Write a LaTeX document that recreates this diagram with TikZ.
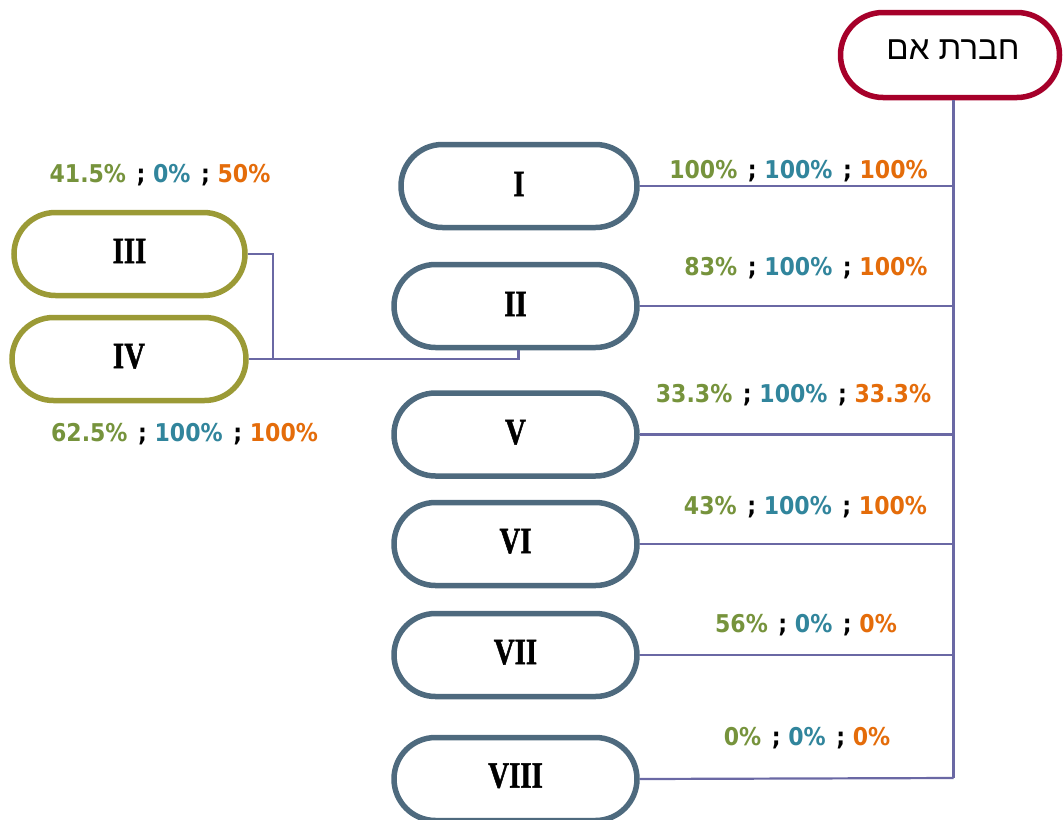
\documentclass[tikz,border=0pt]{standalone}
\usepackage{fontspec}
\usetikzlibrary{shapes.misc}
\setmainfont{Liberation Serif}
\newfontfamily\hebfont[Script=Hebrew]{Liberation Sans}
\newfontfamily\romfont[FakeStretch=0.78,FakeBold=1.2]{Liberation Serif}
\newfontfamily\pctfont{DejaVu Sans Condensed}
\TeXXeTstate=1
\definecolor{slate}{HTML}{4E6A7E}
\definecolor{olive}{HTML}{9B9A36}
\definecolor{mred}{HTML}{A6002A}
\definecolor{conn}{HTML}{6A68A4}
\definecolor{pg}{HTML}{76933C}
\definecolor{pt}{HTML}{31859C}
\definecolor{po}{HTML}{E46C0A}
\newcommand{\pcts}[3]{\textcolor{pg}{#1}\hspace{0.12em} ; \textcolor{pt}{#2}\hspace{0.12em} ; \textcolor{po}{#3}}
\tikzset{
  x=1pt, y=-1pt,
  pill/.style={rounded rectangle, draw=slate, line width=5.5pt, fill=white,
    minimum height=83pt, inner sep=0pt,
    font=\romfont\bfseries\fontsize{37}{37}\selectfont},
  subpill/.style={pill, draw=olive},
  mother/.style={pill, draw=mred, minimum width=219pt, minimum height=85pt,
    font=\hebfont\fontsize{33}{33}\selectfont},
  link/.style={draw=conn, line width=2.2pt},
  pct/.style={anchor=base, inner sep=0pt, font=\pctfont\bfseries\fontsize{24.5}{25}\selectfont}
}
\begin{document}
\begin{tikzpicture}
\useasboundingbox (0,0) rectangle (1064,819);
\coordinate (ttop) at (953.5,98);
\coordinate (tbot) at (953.5,778);
\coordinate (jx) at (273,0);
\coordinate (n2b) at (518.5,348);
% nodes
\node[mother] (m) at (950,55) {\raisebox{11pt}{\hspace{6pt}\beginR חברת אם\endR}};
\node[pill, minimum width=236pt] (n1) at (519,186) {\raisebox{4pt}{I}};
\node[pill, minimum width=243pt] (n2) at (515.5,306) {\raisebox{4pt}{II}};
\node[pill, minimum width=243pt] (n5) at (515.5,434.5) {\raisebox{5pt}{V}};
\node[pill, minimum width=243pt] (n6) at (515.5,544) {\raisebox{6pt}{VI}};
\node[pill, minimum width=243pt] (n7) at (515.5,655) {\raisebox{6pt}{VII}};
\node[pill, minimum width=243pt] (n8) at (515.5,779) {\raisebox{7pt}{VIII}};
\node[subpill, minimum width=231pt] (n3) at (129.5,254) {\raisebox{6pt}{III}};
\node[subpill, minimum width=234pt] (n4) at (129,359) {\raisebox{6pt}{IV}};
% connectors
\path[link] (m.south -| ttop) -- (tbot);
\path[link] (n1.east) -- (n1.east -| ttop);
\path[link] (n2.east) -- (n2.east -| ttop);
\path[link] (n5.east) -- (n5.east -| ttop);
\path[link] (n6.east) -- (n6.east -| ttop);
\path[link] (n7.east) -- (n7.east -| ttop);
\path[link] (n8.east) -- (tbot);
\path[link] (n3.east) -- (n3.east -| jx) -- (n4.east -| jx);
\path[link] (n4.east) -- (n4.east -| n2b) -- (n2.south -| n2b);
% labels
\node[pct] (l1) at (798.5,178) {\pcts{100\%}{100\%}{100\%}};
\node[pct] (l2) at (806,275) {\pcts{83\%}{100\%}{100\%}};
\node[pct] (l5) at (793.5,402) {\pcts{33.3\%}{100\%}{33.3\%}};
\node[pct] (l6) at (805.5,514) {\pcts{43\%}{100\%}{100\%}};
\node[pct] (l7) at (806,632) {\pcts{56\%}{0\%}{0\%}};
\node[pct] (l8) at (807,745) {\pcts{0\%}{0\%}{0\%}};
\node[pct] (l3) at (160,182) {\pcts{41.5\%}{0\%}{50\%}};
\node[pct] (l4) at (184.5,441) {\pcts{62.5\%}{100\%}{100\%}};
\end{tikzpicture}
\end{document}
